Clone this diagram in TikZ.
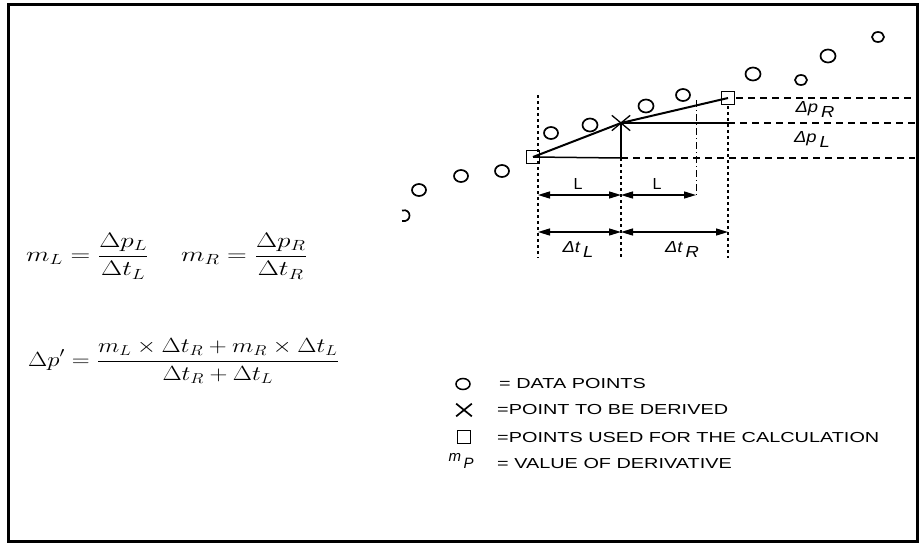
\documentclass[tikz,border=0pt]{standalone}
\usepackage{fix-cm}
\usepackage{fontspec}
\newfontfamily\sansf{Liberation Sans}
\usetikzlibrary{arrows.meta,shapes.misc}
\begin{document}
\begin{tikzpicture}[x=1pt,y=-1pt,
  dat/.style={line width=1.7pt},
  sq/.style={draw, line width=1.6pt, minimum size=13pt, inner sep=0pt},
  xmark/.style={draw, cross out, line width=1.3pt, minimum width=17pt, minimum height=14pt, inner sep=0pt},
  vdot/.style={line width=1.6pt, dash pattern=on 3pt off 3pt},
  hdash/.style={line width=1.4pt, dash pattern=on 7pt off 5pt},
  thin dd/.style={line width=0.7pt, dash pattern=on 7pt off 3pt on 1pt off 3pt},
  dim/.style={line width=1.4pt, {Triangle[length=12pt,width=7pt]}-{Triangle[length=12pt,width=7pt]}},
  lab/.style={font=\sansf\fontsize{16}{18}\selectfont, inner sep=0pt},
  leg/.style={font=\sansf\fontsize{14.5}{17}\selectfont, anchor=west, inner sep=0pt},
  fml/.style={anchor=west, inner sep=0pt},
]
\useasboundingbox (0,0) rectangle (920,544);
\draw[line width=3pt] (8.5,4.5) rectangle (917.5,541.5);

% formulas
\node[fml] (f1) at (26,256) {\scalebox{1.3}[1]{\fontsize{21}{24}\selectfont$\displaystyle m_L=\frac{\Delta p_L}{\Delta t_L}$}};
\node[fml] (f2) at (181,256) {\scalebox{1.3}[1]{\fontsize{21}{24}\selectfont$\displaystyle m_R=\frac{\Delta p_R}{\Delta t_R}$}};
\node[fml] (f3) at (28,361) {\scalebox{1.21}[1]{\fontsize{20.5}{24}\selectfont$\displaystyle \Delta p'=\frac{m_L\times\Delta t_R+m_R\times\Delta t_L}{\Delta t_R+\Delta t_L}$}};

% data points
\draw[dat] (402,210.5) .. controls (412,208) and (412,223) .. (402,221);
\draw[dat] (419,190) ellipse [x radius=7, y radius=6];
\draw[dat] (461,176) ellipse [x radius=7, y radius=6];
\draw[dat] (502,171) ellipse [x radius=7, y radius=6];
\draw[dat] (551,133) ellipse [x radius=7, y radius=6];
\draw[dat] (590,125) ellipse [x radius=7.5, y radius=6.5];
\draw[dat] (646,106) ellipse [x radius=7.5, y radius=6.5];
\draw[dat] (683,95) ellipse [x radius=7, y radius=6];
\draw[dat] (753,74) ellipse [x radius=7.5, y radius=6.5];
\draw[dat] (801,80) ellipse [x radius=6, y radius=5];
\draw[dat] (828,56) ellipse [x radius=7.5, y radius=6.5];
\draw[dat] (878,37) ellipse [x radius=6, y radius=5];

% construction lines
\draw[vdot] (538,95) -- (538,258);
\draw[vdot] (621,158) -- (621,258);
\draw[vdot] (728,106) -- (728,258);
\draw[thin dd] (696,100) -- (696,195);
\draw[hdash] (621,158) -- (915,158);
\draw[hdash] (728,123) -- (915,123);
\draw[hdash] (736,98) -- (915,98);

\node[sq] (pl) at (533,157) {};
\node[sq] (pr) at (728,98) {};
\node[xmark] (px) at (621,123) {};

\draw[line width=2pt] (pl.center) -- (px.center) -- (pr.center);
\draw[line width=1.5pt] (pl.center) -- (621,158);
\draw[line width=1.6pt] (px.center) -- (621,158);
\draw[line width=1.3pt] (px.center) -- (728,123);

% dimension arrows
\draw[dim] (538,195) -- (621,195);
\draw[dim] (621,195) -- (696,195);
\draw[dim] (538,232) -- (621,232);
\draw[dim] (621,232) -- (728,232);

\node[lab] (l1) at (578,184) {L};
\node[lab] (l2) at (657,184) {L};
\node[lab] (tl) at (578,249) {\scalebox{1.15}[1]{\itshape Δt\,\raisebox{-5pt}{L}}};
\node[lab] (tr) at (682,249) {\scalebox{1.15}[1]{\itshape Δt\,\raisebox{-5pt}{R}}};
\node[lab] (pR) at (815,109) {\scalebox{1.15}[1]{\itshape Δp\,\raisebox{-5pt}{R}}};
\node[lab] (pL) at (812,139) {\scalebox{1.15}[1]{\itshape Δp\,\raisebox{-5pt}{L}}};

% legend
\draw[line width=1.5pt] (463,384) ellipse [x radius=7, y radius=5.5];
\node[xmark, minimum width=14pt, minimum height=11pt, line width=1.7pt] (lx) at (464,410) {};
\node[sq, minimum size=13pt] (ls) at (464,437) {};
\node[lab, font=\sansf\fontsize{15}{17}\selectfont\itshape] (lm) at (461,461) {m\raisebox{-7pt}{\,P}};
\node[leg] (t1) at (499,384) {\scalebox{1.37}[1]{= DATA POINTS}};
\node[leg] (t2) at (497,410) {\scalebox{1.37}[1]{=POINT TO BE DERIVED}};
\node[leg] (t3) at (497,437) {\scalebox{1.37}[1]{=POINTS USED FOR THE CALCULATION}};
\node[leg] (t4) at (497,463) {\scalebox{1.37}[1]{= VALUE OF DERIVATIVE}};
\end{tikzpicture}
\end{document}
